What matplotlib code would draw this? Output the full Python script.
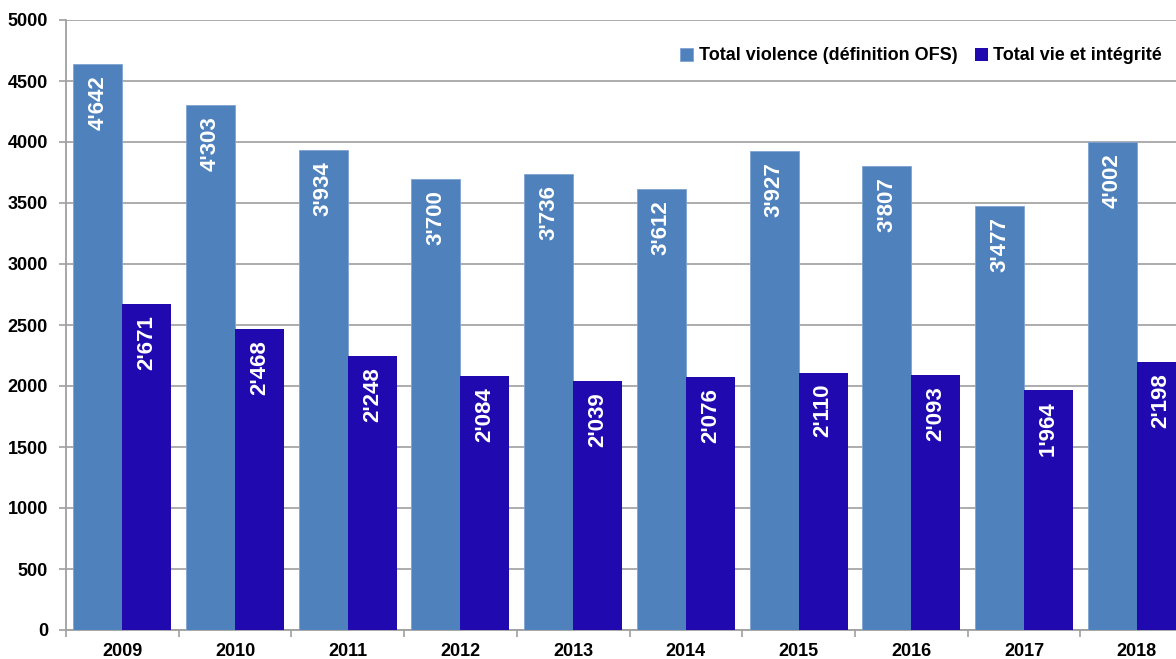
import matplotlib.pyplot as plt
import numpy as np

years = ['2009', '2010', '2011', '2012', '2013', '2014', '2015', '2016', '2017', '2018']
violence_ofs = [4642, 4303, 3934, 3700, 3736, 3612, 3927, 3807, 3477, 4002]
vie_integrite = [2671, 2468, 2248, 2084, 2039, 2076, 2110, 2093, 1964, 2198]
series_names = ['Total violence (définition OFS)', 'Total vie et intégrité']

plt.rcParams['font.family'] = ['Liberation Sans', 'DejaVu Sans']
plt.rcParams['font.weight'] = 'bold'

W, H = 1176, 659
fig = plt.figure(figsize=(W / 100, H / 100), dpi=100)
# the plot area runs a little past the right edge of the figure
ax = fig.add_axes([66 / W, 29 / H, 1127 / W, 610 / H])

x = np.arange(len(years))
bw = 0.435
c_light = '#4F81BD'
c_dark = '#2109B0'

b1 = ax.bar(x - bw / 2, violence_ofs, bw, color=c_light, edgecolor='#7FA3D3',
            linewidth=0.6, zorder=3, label=series_names[0])
b2 = ax.bar(x + bw / 2, vie_integrite, bw, color=c_dark, zorder=3,
            label=series_names[1])

def fmt(v):
    return f"{v:,}".replace(",", "'")

for bars, vals in ((b1, violence_ofs), (b2, vie_integrite)):
    for r, v in zip(bars, vals):
        ax.annotate(fmt(v), (r.get_x() + r.get_width() / 2, v),
                    xytext=(0, -8), textcoords='offset points',
                    rotation=90, ha='center', va='top', color='white',
                    fontsize=16, fontweight='bold', zorder=4)

ax.set_xlim(-0.5, len(years) - 0.5)
ax.set_ylim(0, 5000)
ax.set_yticks(np.arange(0, 5001, 500))
ax.yaxis.grid(True, color='#A6A6A6', linewidth=1.3, zorder=0)

ax.set_xticks(np.arange(-0.5, len(years), 1))
ax.set_xticklabels([])
ax.set_xticks(x, minor=True)
ax.set_xticklabels(years, minor=True)
ax.tick_params(axis='x', which='major', length=5, color='#A0A0A0', width=1.2)
ax.tick_params(axis='x', which='minor', length=0, pad=9, labelsize=13)
ax.tick_params(axis='y', length=5, color='#A0A0A0', width=1.2, pad=8, labelsize=13)

for s in ('top', 'right'):
    ax.spines[s].set_visible(False)
for s in ('left', 'bottom'):
    ax.spines[s].set_color('#A0A0A0')
    ax.spines[s].set_linewidth(1.3)

ax.legend(ncol=2, loc='center right', bbox_to_anchor=(1162 / W, 1 - 56 / H),
          bbox_transform=fig.transFigure, frameon=False, fontsize=13,
          handlelength=0.7, handleheight=0.7, handletextpad=0.3,
          columnspacing=1.0, borderpad=0, borderaxespad=0)

fig.savefig('out.png', dpi=100)
